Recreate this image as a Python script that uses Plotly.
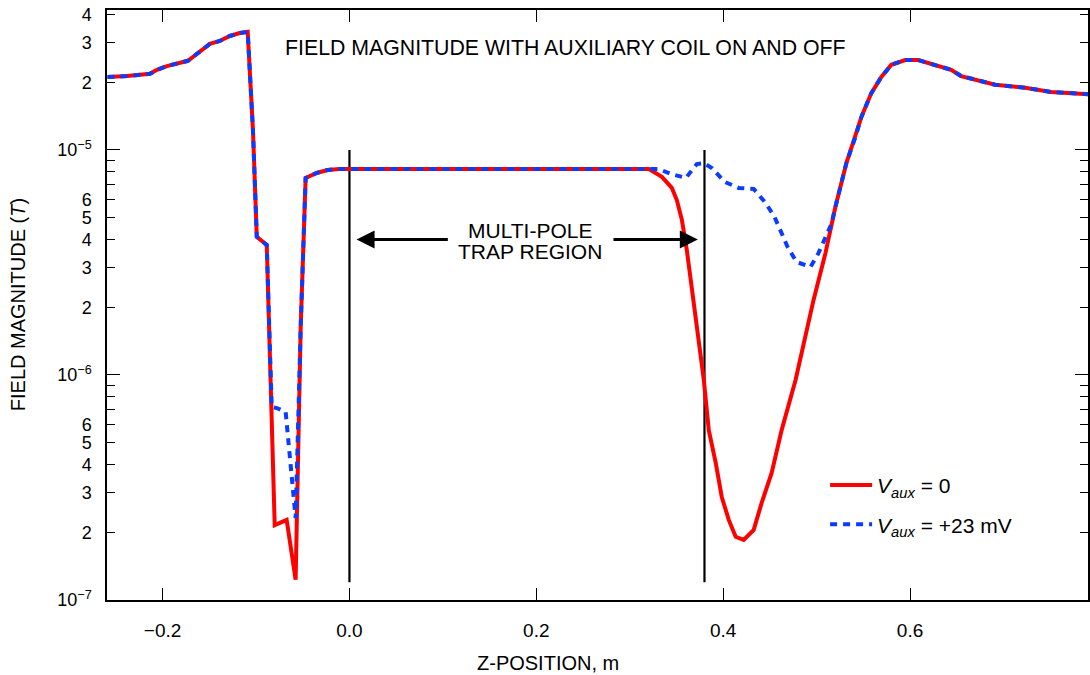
import plotly.graph_objects as go

# ---------------- data ----------------
# Z-position in metres, field magnitude in tesla
z_off = [-0.259, -0.238, -0.2135, -0.206, -0.1954, -0.1815, -0.1729, -0.1676, -0.1601,
         -0.1494, -0.1388, -0.1281, -0.1174, -0.1089, -0.1033, -0.0992, -0.0885,
         -0.0800, -0.0672, -0.0576, -0.0522, -0.0469, -0.0351, -0.0234, -0.0106,
         0.3205, 0.3344, 0.3451, 0.3504, 0.3558, 0.3611, 0.3654, 0.3793, 0.3846,
         0.3921, 0.3985, 0.4060, 0.4134, 0.4220, 0.4327, 0.4412, 0.4519, 0.4626,
         0.4775, 0.4967, 0.5095, 0.5201, 0.5319, 0.5415, 0.5479, 0.5586, 0.5693,
         0.5800, 0.5949, 0.6088, 0.6227, 0.6440, 0.6547, 0.6697, 0.6911, 0.7232,
         0.7510, 0.7905]
b_off = [2.11e-5, 2.13e-5, 2.18e-5, 2.27e-5, 2.36e-5, 2.44e-5, 2.49e-5, 2.59e-5, 2.75e-5,
         2.96e-5, 3.05e-5, 3.21e-5, 3.31e-5, 3.35e-5, 1.23e-5, 4.11e-6, 3.78e-6,
         2.15e-7, 2.27e-7, 1.23e-7, 1.63e-6, 7.51e-6, 7.90e-6, 8.15e-6, 8.23e-6,
         8.23e-6, 7.59e-6, 6.78e-6, 5.99e-6, 4.89e-6, 3.59e-6, 2.64e-6, 9.50e-7, 5.69e-7,
         4.06e-7, 2.87e-7, 2.27e-7, 1.91e-7, 1.85e-7, 2.05e-7, 2.70e-7, 3.67e-7, 5.69e-7,
         9.50e-7, 2.15e-6, 3.48e-6, 5.58e-6, 8.75e-6, 1.14e-5, 1.40e-5, 1.79e-5, 2.11e-5,
         2.39e-5, 2.51e-5, 2.51e-5, 2.41e-5, 2.27e-5, 2.13e-5, 2.05e-5, 1.95e-5, 1.89e-5,
         1.81e-5, 1.77e-5]

# V_aux = +23 mV: identical outside the two dips
z_on_left = [-0.0832, -0.0779, -0.0683, -0.0576, -0.0522, -0.0469, -0.0351, -0.0234, -0.0106]
b_on_left = [7.21e-7, 7.13e-7, 6.85e-7, 2.31e-7, 1.63e-6, 7.51e-6, 7.90e-6, 8.15e-6, 8.23e-6]
z_on_right = [0.3312, 0.3440, 0.3601, 0.3718, 0.3793, 0.3878, 0.4017, 0.4166, 0.4327,
              0.4455, 0.4550, 0.4625, 0.4689, 0.4785, 0.4935, 0.5020, 0.5095, 0.5159]
b_on_right = [8.23e-6, 7.82e-6, 7.51e-6, 8.66e-6, 8.75e-6, 8.32e-6, 7.21e-6, 6.78e-6, 6.71e-6,
              5.81e-6, 5.04e-6, 4.32e-6, 3.71e-6, 3.18e-6, 3.02e-6, 3.48e-6, 4.06e-6, 4.69e-6]
z_on = z_off[:17] + z_on_left + z_on_right + z_off[46:]
b_on = b_off[:17] + b_on_left + b_on_right + b_off[46:]

# trap region boundaries
z_bounds = [0.0, 0.38]
b_bound_span = [1.2e-7, 1e-5]

x_ticks = [-0.2, 0.0, 0.2, 0.4, 0.6]
x_ticktext = ["\u22120.2", "0.0", "0.2", "0.4", "0.6"]
y_ticks = [1e-7, 2e-7, 3e-7, 4e-7, 5e-7, 6e-7,
           1e-6, 2e-6, 3e-6, 4e-6, 5e-6, 6e-6,
           1e-5, 2e-5, 3e-5, 4e-5]
y_ticktext = ["10<sup>\u22127</sup>", "2", "3", "4", "5", "6",
              "10<sup>\u22126</sup>", "2", "3", "4", "5", "6",
              "10<sup>\u22125</sup>", "2", "3", "4"]
y_minor = [7e-7, 8e-7, 9e-7, 7e-6, 8e-6, 9e-6]
y_decades = [1e-7, 1e-6, 1e-5]

FONT = "Liberation Sans, Arial, sans-serif"
x_range = [-0.2595, 0.7905]
y_range = [-7.0, -4.378]

fig = go.Figure()

for zb in z_bounds:
    fig.add_trace(go.Scatter(x=[zb, zb], y=b_bound_span, mode="lines",
                             line=dict(color="black", width=2.2),
                             showlegend=False, hoverinfo="skip"))

fig.add_trace(go.Scatter(x=z_off, y=b_off, mode="lines",
                         name="<i>V</i><sub><i>aux</i></sub> = 0",
                         line=dict(color="#ff0000", width=4),
                         legendgroup="a"))
fig.add_trace(go.Scatter(x=z_on, y=b_on, mode="lines",
                         name="<i>V</i><sub><i>aux</i></sub> = +23 mV",
                         line=dict(color="#0a3cff", width=4, dash="7px,6px"),
                         legendgroup="b"))
# helper trace for the decade tick axis
fig.add_trace(go.Scatter(x=[None], y=[None], yaxis="y2", showlegend=False,
                         hoverinfo="skip"))

fig.update_layout(
    width=1090, height=675,
    margin=dict(l=107, r=0, t=10, b=75),
    paper_bgcolor="white", plot_bgcolor="white",
    font=dict(family=FONT, size=20, color="black"),
    xaxis=dict(range=x_range, tickvals=x_ticks, ticktext=x_ticktext,
               ticks="inside", ticklen=12, tickwidth=1.2, tickcolor="black",
               showline=True, linecolor="black", linewidth=1.5, mirror="ticks",
               showgrid=False, zeroline=False, ticklabelstandoff=12,
               tickfont=dict(size=19)),
    yaxis=dict(type="log", range=y_range, tickvals=y_ticks, ticktext=y_ticktext,
               ticks="inside", ticklen=8, tickwidth=1.2, tickcolor="black",
               showline=True, linecolor="black", linewidth=1.5, mirror="ticks",
               showgrid=False, zeroline=False, ticklabelstandoff=10,
               tickfont=dict(size=18),
               minor=dict(tickvals=y_minor, ticks="inside", ticklen=8,
                          tickwidth=1.2, tickcolor="black", showgrid=False)),
    yaxis2=dict(type="log", range=y_range, overlaying="y", anchor="x", side="left",
                tickvals=y_decades, ticks="inside", ticklen=13, tickwidth=1.2,
                tickcolor="black", showticklabels=False, showline=True,
                linecolor="black", linewidth=1.5, mirror="ticks", showgrid=False,
                zeroline=False),
    legend=dict(x=0.732, y=0.229, xanchor="left", yanchor="top",
                bgcolor="rgba(0,0,0,0)", font=dict(size=21),
                itemwidth=42, tracegroupgap=9),
    showlegend=True,
)

arrow_y = 0.611
fig.add_annotation(x=0.0076, y=arrow_y, xref="x", yref="paper",
                   ax=0.1069, ay=0, axref="x", ayref="pixel",
                   text="", showarrow=True, arrowhead=2, arrowsize=1.2,
                   arrowwidth=3, arrowcolor="black")
fig.add_annotation(x=0.3729, y=arrow_y, xref="x", yref="paper",
                   ax=0.281, ay=0, axref="x", ayref="pixel",
                   text="", showarrow=True, arrowhead=2, arrowsize=1.2,
                   arrowwidth=3, arrowcolor="black")
fig.add_annotation(x=0.1934, y=0.6263, xref="x", yref="paper", text="MULTI-POLE",
                   showarrow=False, font=dict(size=21), xanchor="center", yanchor="middle")
fig.add_annotation(x=0.1934, y=0.5915, xref="x", yref="paper", text="TRAP REGION",
                   showarrow=False, font=dict(size=21), xanchor="center", yanchor="middle")
fig.add_annotation(x=0.2308, y=0.9356, xref="x", yref="paper",
                   text="FIELD MAGNITUDE WITH AUXILIARY COIL ON AND OFF",
                   showarrow=False, font=dict(size=21.3), xanchor="center", yanchor="middle")
fig.add_annotation(x=0.4497, y=-0.1068, xref="paper", yref="paper",
                   text="Z-POSITION, m", showarrow=False, font=dict(size=20),
                   xanchor="center", yanchor="middle")
fig.add_annotation(x=-0.0905, y=0.5, xref="paper", yref="paper",
                   text="FIELD MAGNITUDE (<i>T</i>)", textangle=-90, showarrow=False,
                   font=dict(size=20), xanchor="center", yanchor="middle")

fig.write_html("out.html", config={"displayModeBar": False},
               post_script="document.body.style.margin='0px';")
